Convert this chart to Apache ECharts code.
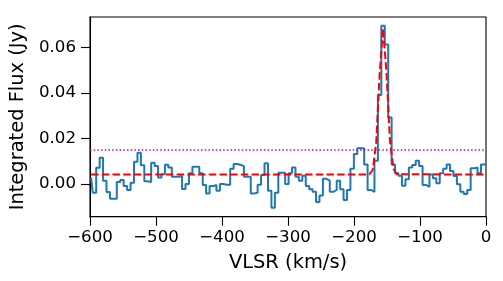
<!DOCTYPE html>
<html><head><meta charset="utf-8">
<script src="https://cdn.jsdelivr.net/npm/echarts@6/dist/echarts.min.js"></script>
<style>html,body{margin:0;padding:0;background:#fff}#c{width:503px;height:281px}</style>
</head><body><div id="c"></div>
<script>
// Channel centre velocities (km/s)
const velocity = [
-598.4,-593.2,-588.0,-582.8,-577.6,-572.4,-567.2,-562.0,-556.8,-551.6,
-546.4,-541.1,-535.9,-530.7,-525.5,-520.3,-515.1,-509.9,-504.7,-499.5,
-494.3,-489.1,-483.9,-478.7,-473.5,-468.3,-463.1,-457.9,-452.7,-447.5,
-442.2,-437.0,-431.8,-426.6,-421.4,-416.2,-411.0,-405.8,-400.6,-395.4,
-390.2,-385.0,-379.8,-374.6,-369.4,-364.2,-359.0,-353.8,-348.6,-343.4,
-338.2,-332.9,-327.7,-322.5,-317.3,-312.1,-306.9,-301.7,-296.5,-291.3,
-286.1,-280.9,-275.7,-270.5,-265.3,-260.1,-254.9,-249.7,-244.5,-239.3,
-234.1,-228.8,-223.6,-218.4,-213.2,-208.0,-202.8,-197.6,-192.4,-187.2,
-182.0,-176.8,-171.6,-166.4,-161.2,-156.0,-150.8,-145.6,-140.4,-135.2,
-130.0,-124.7,-119.5,-114.3,-109.1,-103.9,-98.7,-93.5,-88.3,-83.1,
-77.9,-72.7,-67.5,-62.3,-57.1,-51.9,-46.7,-41.5,-36.3,-31.1,
-25.9,-20.6,-15.4,-10.2,-5.0,0.2];
// Integrated flux per channel (Jy)
const flux = [
0.0028,-0.0038,0.0072,0.0116,0.0015,-0.0035,-0.0065,-0.0065,0.0009,0.0018,
-0.0009,-0.0026,0.0006,0.0098,0.0138,0.0083,0.0012,0.0009,0.0094,0.0079,
0.0029,0.0043,0.0085,0.0073,0.0032,0.0032,0.0035,-0.0022,0.0000,0.0047,
0.0076,0.0076,0.0047,-0.0004,-0.0041,-0.0009,-0.0004,-0.0029,0.0000,-0.0003,
-0.0003,0.0067,0.0088,0.0085,0.0079,0.0032,0.0032,-0.0041,-0.0038,-0.0003,
0.0040,0.0091,-0.0029,-0.0104,-0.0038,0.0050,0.0050,0.0000,0.0047,0.0073,
0.0032,0.0015,0.0037,-0.0009,-0.0023,-0.0034,-0.0079,-0.0050,0.0023,0.0015,
-0.0034,-0.0026,0.0015,-0.0023,-0.0070,-0.0026,0.0067,0.0132,0.0157,0.0157,
0.0086,-0.0026,-0.0034,0.0103,0.0391,0.0696,0.0614,0.0293,0.0086,0.0047,
0.0037,-0.0007,0.0021,0.0073,0.0084,0.0103,0.0079,-0.0004,-0.0012,0.0042,
0.0025,0.0003,0.0047,0.0067,0.0086,0.0057,0.0035,-0.0001,-0.0034,-0.0044,
-0.0026,0.0069,0.0073,0.0047,0.0086,0.0086];
// Gaussian fit curve
const fitVelocity = [-598.4,-176.8,-171.6,-166.4,-161.2,-156.0,-150.8,-145.6,-140.4,-135.2,0.2];
const fitFlux     = [0.0042,0.0042,0.0063,0.0181,0.0481,0.0685,0.0490,0.0195,0.0068,0.0043,0.0042];
// Dotted detection threshold
const threshold = 0.0153;
const xTicks = [-600,-500,-400,-300,-200,-100,0];
const yTicks = [0,0.02,0.04,0.06];
const xTitle = 'VLSR (km/s)';
const yTitle = 'Integrated Flux (Jy)';

const font = 'DejaVu Sans';
const chart = echarts.init(document.getElementById('c'), null, {renderer:'canvas'});
const axisCommon = {
  splitLine:{show:false},
  axisLine:{show:true, onZero:false, lineStyle:{color:'#000', width:1.1}},
};
chart.setOption({
  animation:false,
  backgroundColor:'#fff',
  grid:{left:86, top:17, width:400, height:199.7, show:true, borderColor:'#000', borderWidth:1.1, backgroundColor:'transparent'},
  xAxis:Object.assign({
    type:'value', min:-600, max:0,
    axisTick:{show:true, inside:false, length:9, customValues:xTicks, lineStyle:{color:'#000', width:1.1}},
    axisLabel:{customValues:xTicks, fontFamily:font, fontSize:16.67, color:'#000', margin:12,
      formatter:v=>String(Math.round(v)).replace('-','\u2212')},
    name:xTitle, nameLocation:'middle', nameGap:37,
    nameTextStyle:{fontFamily:font, fontSize:19.44, color:'#000'}
  }, axisCommon),
  yAxis:Object.assign({
    type:'value', min:-0.01435, max:0.07344,
    axisTick:{show:true, inside:false, length:9, customValues:yTicks, lineStyle:{color:'#000', width:1.1}},
    axisLabel:{customValues:yTicks, fontFamily:font, fontSize:16.67, color:'#000', margin:14,
      formatter:v=>v.toFixed(2)},
    name:yTitle, nameLocation:'middle', nameGap:63,
    nameTextStyle:{fontFamily:font, fontSize:19.44, color:'#000'}
  }, axisCommon),
  series:[
    {type:'line', step:'middle', data:velocity.map((v,i)=>[v,flux[i]]),
      symbol:'none', lineStyle:{color:'#1f77b4', width:2}, z:2, emphasis:{disabled:true}},
    {type:'line', data:fitVelocity.map((v,i)=>[v,fitFlux[i]]),
      symbol:'none', lineStyle:{color:'#ff0000', width:2, type:[7.5,3.2]}, z:3, emphasis:{disabled:true},
      markLine:{silent:true, symbol:'none', precision:6, label:{show:false},
        lineStyle:{color:'#bf00bf', width:1.5, type:[1.5,2.2]},
        emphasis:{disabled:true}, data:[{yAxis:threshold}]}}
  ]
});
</script></body></html>
